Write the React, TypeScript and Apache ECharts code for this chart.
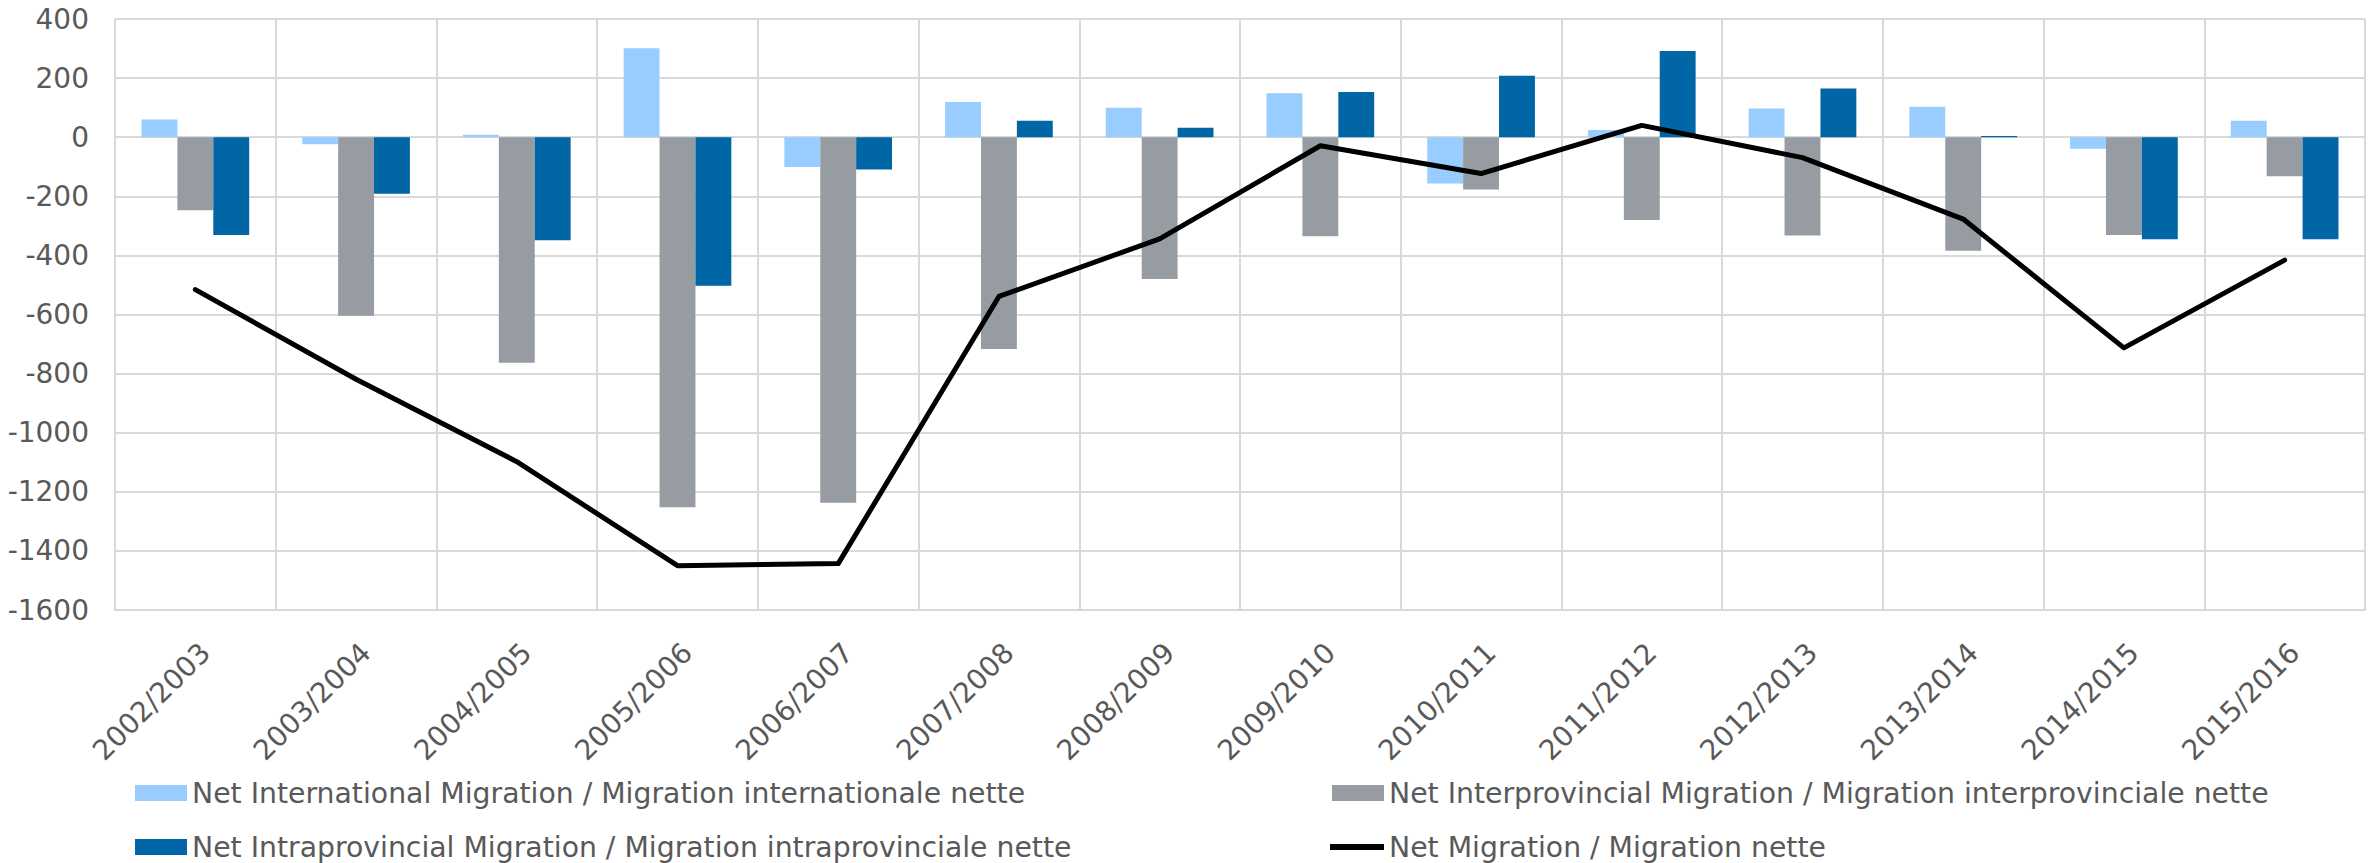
import React, { useEffect, useRef } from "react";
import * as echarts from "echarts";

const categories = [
  "2002/2003", "2003/2004", "2004/2005", "2005/2006", "2006/2007", "2007/2008", "2008/2009",
  "2009/2010", "2010/2011", "2011/2012", "2012/2013", "2013/2014", "2014/2015", "2015/2016",
];
const international = [60, -24, 8, 301, -101, 119, 100, 149, -157, 24, 97, 103, -39, 56];
const interprovincial = [-247, -604, -763, -1252, -1237, -717, -480, -335, -177, -280, -333, -384, -331, -132];
const intraprovincial = [-331, -191, -349, -503, -109, 56, 32, 153, 208, 292, 165, 4, -345, -345];
const netMigration = [-516, -819, -1098, -1450, -1443, -539, -344, -29, -123, 40, -69, -277, -713, -416];

const seriesNames = [
  "Net International Migration / Migration internationale nette",
  "Net Interprovincial Migration / Migration interprovinciale nette",
  "Net Intraprovincial Migration / Migration intraprovinciale nette",
  "Net Migration / Migration nette",
];

const FONT = "DejaVu Sans";
const TEXT = "#595959";
const GRIDC = "#D9D9D9";

export default function App() {
  const ref = useRef<HTMLDivElement>(null);
  useEffect(() => {
    if (!ref.current) return;
    const chart = echarts.init(ref.current, null, { renderer: "svg" });
    const legendBase = (name: string, left: number, top: number, icon: string, w: number, h: number) => ({
      data: [name],
      left,
      top,
      icon,
      itemWidth: w,
      itemHeight: h,
      padding: 0,
      itemGap: 0,
      selectedMode: false,
      textStyle: { fontFamily: FONT, fontSize: 28.3, color: TEXT },
    });
    chart.setOption({
      animation: false,
      backgroundColor: "#ffffff",
      grid: { left: 115, top: 19, width: 2250, height: 591, containLabel: false },
      legend: [
        legendBase(seriesNames[0], 135, 779, "rect", 52, 16),
        legendBase(seriesNames[1], 1332, 779, "rect", 52, 16),
        legendBase(seriesNames[2], 135, 833, "rect", 52, 16),
        legendBase(seriesNames[3], 1330, 833, "rect", 54, 6),
      ],
      xAxis: {
        type: "category",
        data: categories,
        boundaryGap: true,
        axisLine: { show: true, onZero: false, lineStyle: { color: GRIDC, width: 2 } },
        axisTick: { show: false },
        splitLine: { show: true, interval: 0, lineStyle: { color: GRIDC, width: 2 } },
        axisLabel: {
          interval: 0,
          rotate: 45,
          align: "right",
          verticalAlign: "top",
          margin: 28,
          fontFamily: FONT,
          fontSize: 28,
          color: TEXT,
        },
      },
      yAxis: {
        type: "value",
        min: -1600,
        max: 400,
        interval: 200,
        axisLine: { show: true, lineStyle: { color: GRIDC, width: 2 } },
        axisTick: { show: false },
        splitLine: { show: true, lineStyle: { color: GRIDC, width: 2 } },
        axisLabel: {
          fontFamily: FONT,
          fontSize: 28,
          color: TEXT,
          margin: 26,
          formatter: (v: number) => String(v),
        },
      },
      series: [
        {
          name: seriesNames[0],
          type: "bar",
          data: international,
          itemStyle: { color: "#99CCFF" },
          barGap: "0%",
          barCategoryGap: "33%",
        },
        {
          name: seriesNames[1],
          type: "bar",
          data: interprovincial,
          itemStyle: { color: "#969CA2" },
          barGap: "0%",
          barCategoryGap: "33%",
        },
        {
          name: seriesNames[2],
          type: "bar",
          data: intraprovincial,
          itemStyle: { color: "#0066A6" },
          barGap: "0%",
          barCategoryGap: "33%",
        },
        {
          name: seriesNames[3],
          type: "line",
          data: netMigration,
          symbol: "none",
          showSymbol: false,
          itemStyle: { color: "#000000" },
          lineStyle: { color: "#000000", width: 5, cap: "round", join: "round" },
          z: 5,
        },
      ],
    });
    return () => chart.dispose();
  }, []);
  return (
    <div
      ref={ref}
      style={{ position: "fixed", left: 0, top: 0, width: 2377, height: 863, background: "#fff" }}
    />
  );
}
